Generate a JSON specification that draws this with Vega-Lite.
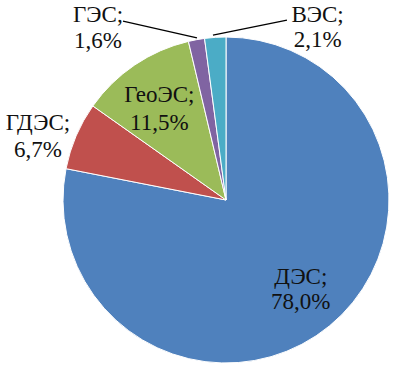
{
  "$schema": "https://vega.github.io/schema/vega-lite/v6.json",
  "autosize": "none",
  "width": 340,
  "height": 340,
  "padding": {"left": 56, "top": 30, "right": 0, "bottom": 0},
  "background": "white",
  "config": {"view": {"stroke": null}},
  "datasets": {
    "shares": [
      {"n": 1, "cat": "ДЭС", "value": 78.0, "label": "ДЭС;\n78,0%"},
      {"n": 2, "cat": "ГДЭС", "value": 6.7, "label": "ГДЭС;\n6,7%"},
      {"n": 3, "cat": "ГеоЭС", "value": 11.5, "label": "ГеоЭС;\n11,5%"},
      {"n": 4, "cat": "ГЭС", "value": 1.6, "label": "ГЭС;\n1,6%"},
      {"n": 5, "cat": "ВЭС", "value": 2.1, "label": "ВЭС;\n2,1%"}
    ],
    "leaders": [
      {"cat": "ГЭС", "x": -0.632, "y": 1.098, "x2": -0.178, "y2": 0.994},
      {"cat": "ВЭС", "x": -0.080, "y": 1.012, "x2": 0.374, "y2": 1.104}
    ]
  },
  "data": {"name": "shares"},
  "layer": [
    {
      "mark": {"type": "arc", "outerRadius": 163, "stroke": "#ffffff", "strokeWidth": 1},
      "encoding": {
        "theta": {"field": "value", "type": "quantitative", "stack": true},
        "order": {"field": "n", "type": "quantitative"},
        "color": {
          "field": "cat", "type": "nominal", "legend": null,
          "scale": {
            "domain": ["ДЭС", "ГДЭС", "ГеоЭС", "ГЭС", "ВЭС"],
            "range": ["#4F81BD", "#C0504D", "#9BBB59", "#8064A2", "#4BACC6"]
          }
        }
      }
    },
    {
      "mark": {"type": "text", "radius": 116, "dx": 1, "dy": -13, "font": "Liberation Serif", "fontSize": 23, "lineHeight": 25, "lineBreak": "\n", "color": "#111111", "align": "center", "baseline": "middle"},
      "encoding": {
        "theta": {"field": "value", "type": "quantitative", "stack": true},
        "order": {"field": "n", "type": "quantitative"},
        "text": {"condition": {"test": "datum.cat === 'ДЭС'", "field": "label"}, "value": ""}
      }
    },
    {
      "mark": {"type": "text", "radius": 199, "dx": -5, "dy": 1, "font": "Liberation Serif", "fontSize": 23, "lineHeight": 27, "lineBreak": "\n", "color": "#111111", "align": "center", "baseline": "middle"},
      "encoding": {
        "theta": {"field": "value", "type": "quantitative", "stack": true},
        "order": {"field": "n", "type": "quantitative"},
        "text": {"condition": {"test": "datum.cat === 'ГДЭС'", "field": "label"}, "value": ""}
      }
    },
    {
      "mark": {"type": "text", "radius": 112, "dx": -4, "dy": -12, "font": "Liberation Serif", "fontSize": 23, "lineHeight": 28, "lineBreak": "\n", "color": "#111111", "align": "center", "baseline": "middle"},
      "encoding": {
        "theta": {"field": "value", "type": "quantitative", "stack": true},
        "order": {"field": "n", "type": "quantitative"},
        "text": {"condition": {"test": "datum.cat === 'ГеоЭС'", "field": "label"}, "value": ""}
      }
    },
    {
      "mark": {"type": "text", "radius": 176, "dx": -96, "dy": -12, "font": "Liberation Serif", "fontSize": 23, "lineHeight": 26, "lineBreak": "\n", "color": "#111111", "align": "center", "baseline": "middle"},
      "encoding": {
        "theta": {"field": "value", "type": "quantitative", "stack": true},
        "order": {"field": "n", "type": "quantitative"},
        "text": {"condition": {"test": "datum.cat === 'ГЭС'", "field": "label"}, "value": ""}
      }
    },
    {
      "mark": {"type": "text", "radius": 173, "dx": 103, "dy": -12, "font": "Liberation Serif", "fontSize": 23, "lineHeight": 25, "lineBreak": "\n", "color": "#111111", "align": "center", "baseline": "middle"},
      "encoding": {
        "theta": {"field": "value", "type": "quantitative", "stack": true},
        "order": {"field": "n", "type": "quantitative"},
        "text": {"condition": {"test": "datum.cat === 'ВЭС'", "field": "label"}, "value": ""}
      }
    },
    {
      "data": {"name": "leaders"},
      "mark": {"type": "rule", "color": "#000000", "strokeWidth": 1.3},
      "encoding": {
        "x": {"field": "x", "type": "quantitative", "scale": {"domain": [-1.043, 1.043], "nice": false, "zero": false}, "axis": null},
        "y": {"field": "y", "type": "quantitative", "scale": {"domain": [-1.043, 1.043], "nice": false, "zero": false}, "axis": null},
        "x2": {"field": "x2"},
        "y2": {"field": "y2"}
      }
    }
  ]
}
